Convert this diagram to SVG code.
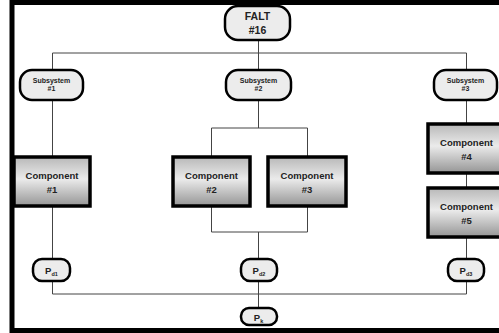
<svg xmlns="http://www.w3.org/2000/svg" width="499" height="333" viewBox="0 0 499 333">
<defs>
<linearGradient id="cg" x1="0" y1="0" x2="0" y2="1">
<stop offset="0" stop-color="#b8b8b8"/>
<stop offset="0.45" stop-color="#ebebeb"/>
<stop offset="1" stop-color="#959595"/>
</linearGradient>
<style>
.pill{fill:#ececec;stroke:#000;stroke-width:2.5}
.comp{fill:url(#cg);stroke:#000;stroke-width:3.5}
.ln{fill:none;stroke:#444;stroke-width:1}
text{font-family:"Liberation Sans",Arial,sans-serif;font-weight:bold;fill:#222;text-anchor:middle}
.t1{font-size:10.5px}
.t2{font-size:7px}
.t3{font-size:9.5px}
.tp{font-size:9.5px}
.sub{font-size:5.5px}
</style>
</defs>
<rect x="0" y="0" width="499" height="333" fill="#fff"/>
<rect x="12" y="2.5" width="500" height="328" fill="none" stroke="#000" stroke-width="5"/>
<g id="connectors">
<path class="ln" d="M258.5,40V53M52.5,53H466.5M52.5,53V70M258.5,53V70M466.5,53V70"/>
<path class="ln" d="M52.5,100V157M52.5,206V259M52.5,281V294"/>
<path class="ln" d="M258.5,100V128M211.5,128H307.5M211.5,128V157M307.5,128V157M211.5,206V232M307.5,206V232M211.5,232H307.5M258.5,232V259M258.5,281V308"/>
<path class="ln" d="M466.5,100V124M466.5,173V188M466.5,237V259M466.5,281V294"/>
<path class="ln" d="M52.5,294H466.5"/>
</g>
<g id="falt"><rect class="pill" x="225" y="6" width="65" height="34" rx="13"/><text class="t1" x="257.5" y="19.5">FALT</text><text class="t1" x="257.5" y="33.5">#16</text></g>
<g id="sub1"><rect class="pill" x="20" y="70" width="63" height="30" rx="12"/><text class="t2" x="51.5" y="82.5">Subsystem</text><text class="t2" x="51.5" y="91">#1</text></g>
<g id="sub2"><rect class="pill" x="226" y="70" width="65" height="30" rx="12"/><text class="t2" x="258.5" y="82.5">Subsystem</text><text class="t2" x="258.5" y="91">#2</text></g>
<g id="sub3"><rect class="pill" x="434" y="70" width="63" height="30" rx="12"/><text class="t2" x="465.5" y="82.5">Subsystem</text><text class="t2" x="465.5" y="91">#3</text></g>
<g id="comp1"><rect class="comp" x="14" y="157" width="76" height="49"/><text class="t3" x="52" y="178.5">Component</text><text class="t3" x="52" y="192.5">#1</text></g>
<g id="comp2"><rect class="comp" x="173" y="157" width="77" height="49"/><text class="t3" x="211.5" y="178.5">Component</text><text class="t3" x="211.5" y="192.5">#2</text></g>
<g id="comp3"><rect class="comp" x="268" y="157" width="78" height="49"/><text class="t3" x="307" y="178.5">Component</text><text class="t3" x="307" y="192.5">#3</text></g>
<g id="comp4"><rect class="comp" x="428" y="124" width="78" height="49"/><text class="t3" x="466.5" y="145.5">Component</text><text class="t3" x="466.5" y="159.5">#4</text></g>
<g id="comp5"><rect class="comp" x="428" y="188" width="78" height="49"/><text class="t3" x="466.5" y="209.5">Component</text><text class="t3" x="466.5" y="223.5">#5</text></g>
<g id="pd1"><rect class="pill" x="33" y="259" width="37" height="22" rx="9"/><text class="tp" x="51.5" y="273.5">P<tspan class="sub" dy="2.5">d1</tspan></text></g>
<g id="pd2"><rect class="pill" x="241" y="259" width="36" height="22" rx="9"/><text class="tp" x="259" y="273.5">P<tspan class="sub" dy="2.5">d2</tspan></text></g>
<g id="pd3"><rect class="pill" x="448" y="259" width="36" height="22" rx="9"/><text class="tp" x="466" y="273.5">P<tspan class="sub" dy="2.5">d3</tspan></text></g>
<g id="pk"><rect class="pill" x="241" y="308" width="36" height="17" rx="8"/><text class="tp" x="258.5" y="320.5">P<tspan class="sub" dy="2.5">k</tspan></text></g>
</svg>
